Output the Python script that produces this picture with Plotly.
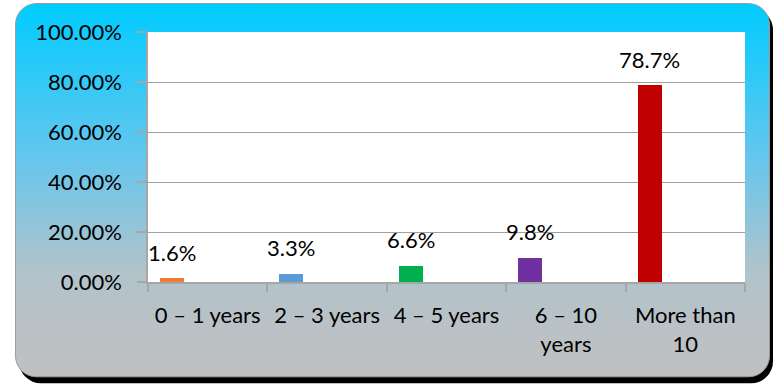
import base64
import plotly.graph_objects as go

# Years of experience distribution
categories = ["0 – 1 years", "2 – 3 years", "4 – 5 years", "6 – 10<br>years", "More than<br>10"]
shares = [0.016, 0.033, 0.066, 0.098, 0.787]
share_labels = ["1.6%", "3.3%", "6.6%", "9.8%", "78.7%"]
bar_colors = ["#ED7D31", "#5B9BD5", "#00B050", "#7030A0", "#C00000"]
y_ticks = [0, 0.2, 0.4, 0.6, 0.8, 1.0]
y_tick_labels = ["0.00%", "20.00%", "40.00%", "60.00%", "80.00%", "100.00%"]

W, H = 774, 385
ML, MR, MT, MB = 148, 29, 32, 102.5
PW, PH = W - ML - MR, H - MT - MB

FONT = "Lato"
TEXT = "#000000"

# Rounded, gradient-filled frame with a dark drop shadow, plus the white plot area
frame_svg = f"""<svg xmlns="http://www.w3.org/2000/svg" width="{W}" height="{H}" viewBox="0 0 {W} {H}">
<defs><linearGradient id="g" x1="0" y1="0" x2="0" y2="1">
<stop offset="0" stop-color="#00CCFF"/>
<stop offset="0.4" stop-color="#62C6EE"/>
<stop offset="0.72" stop-color="#B2C3CB"/>
<stop offset="1" stop-color="#C0C0C0"/>
</linearGradient></defs>
<rect x="19" y="8" width="754" height="376" rx="22" ry="22" fill="#000000"/>
<rect x="15.5" y="3.5" width="754" height="374" rx="21" ry="21" fill="url(#g)" stroke="#9C9C9C" stroke-width="1"/>
<rect x="{ML}" y="{MT}" width="{PW}" height="{PH}" fill="#FFFFFF"/>
</svg>"""
frame_uri = "data:image/svg+xml;base64," + base64.b64encode(frame_svg.encode()).decode()

fig = go.Figure()
for cat, val, col in zip(categories, shares, bar_colors):
    fig.add_trace(go.Bar(
        x=[cat], y=[val], marker=dict(color=col, line=dict(width=0)),
        width=0.201, offset=-0.399, showlegend=False, hoverinfo="skip",
    ))

# Value labels sit a fixed distance above each bar
for cat, val, lab in zip(categories, shares, share_labels):
    fig.add_annotation(
        x=cat, y=val, text=lab, showarrow=False, xshift=-0.299 * PW / 5,
        yshift=26, yanchor="middle", xanchor="center",
        font=dict(family=FONT, size=22, color=TEXT),
    )

fig.add_layout_image(
    source=frame_uri, xref="paper", yref="paper",
    x=-ML / PW, y=1 + MT / PH, sizex=W / PW, sizey=H / PH,
    xanchor="left", yanchor="top", sizing="stretch", layer="below",
)

fig.update_layout(
    width=W, height=H,
    margin=dict(l=ML, r=MR, t=MT, b=MB, pad=0),
    paper_bgcolor="#FFFFFF", plot_bgcolor="rgba(0,0,0,0)",
    bargap=0, barmode="overlay",
    font=dict(family=FONT, size=22, color=TEXT),
    xaxis=dict(
        type="category", categoryorder="array", categoryarray=categories,
        range=[-0.5, 4.5], tickson="boundaries", ticks="outside", ticklen=8,
        tickcolor="#A6A6A6", tickwidth=1.5, showline=True, linecolor="#A6A6A6",
        linewidth=1.5, showgrid=False, zeroline=False, ticklabelstandoff=13,
        tickfont=dict(family=FONT, size=22, color=TEXT),
    ),
    yaxis=dict(
        range=[0, 1.0], tickvals=y_ticks, ticktext=y_tick_labels,
        ticks="outside", ticklen=9, tickcolor="#A6A6A6", tickwidth=1.5,
        showline=True, linecolor="#A6A6A6", linewidth=1.5,
        showgrid=True, gridcolor="#A0A0A0", gridwidth=1.2, zeroline=False,
        ticklabelstandoff=11, tickfont=dict(family=FONT, size=22, color=TEXT),
    ),
)

fig.write_html("out.html")
